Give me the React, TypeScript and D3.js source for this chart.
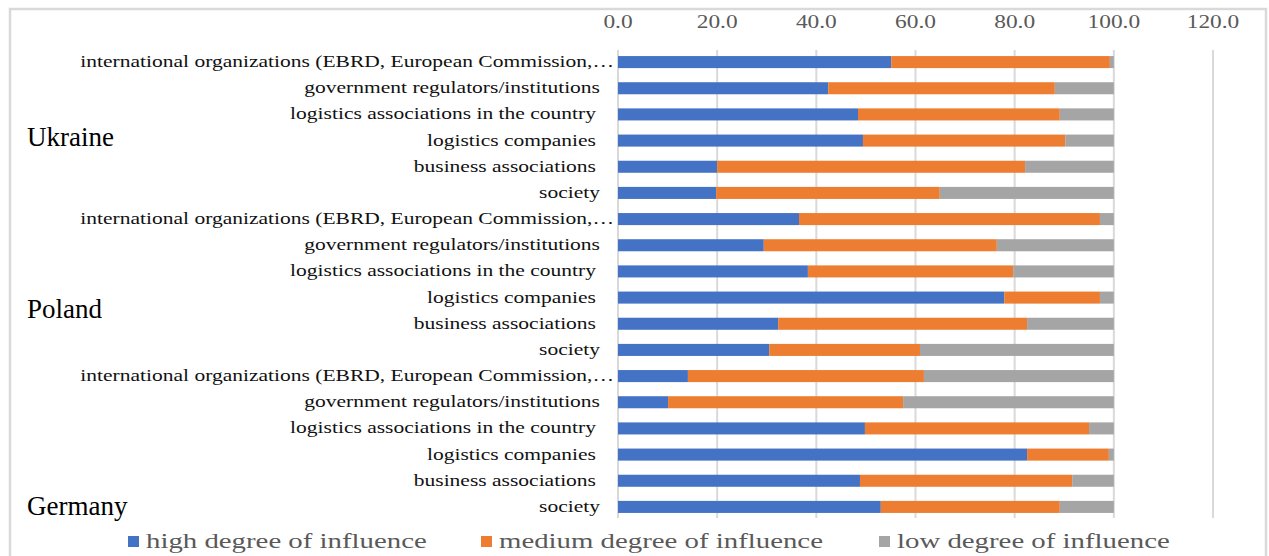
import React from 'react';
import * as d3 from 'd3';

const countries = ['Ukraine', 'Poland', 'Germany'];
const categories = [
  'international organizations (EBRD, European Commission,…',
  'government regulators/institutions',
  'logistics associations in the country',
  'logistics companies',
  'business associations',
  'society',
];
// rows top to bottom: Ukraine x6, Poland x6, Germany x6
const high = [55.1, 42.4, 48.4, 49.4, 20.0, 19.8, 36.5, 29.4, 38.3, 77.9, 32.3, 30.5, 14.1, 10.1, 49.8, 82.5, 48.8, 53.0];
const medium = [44.1, 45.7, 40.7, 40.8, 62.1, 45.1, 60.7, 47.0, 41.4, 19.3, 50.2, 30.4, 47.6, 47.4, 45.2, 16.5, 42.8, 36.1];
const low = [0.8, 11.9, 10.9, 9.8, 17.9, 35.1, 2.8, 23.6, 20.3, 2.8, 17.5, 39.1, 38.3, 42.5, 5.0, 1.0, 8.4, 10.9];
const ticks = [0, 20, 40, 60, 80, 100, 120];
const seriesNames = ['high degree of influence', 'medium degree of influence', 'low degree of influence'];
const colors = ['#4472C4', '#ED7D31', '#A5A5A5'];
// row (in band steps from the first bar) where each country label sits
const countryRows = [2.86, 9.44, 16.96];

const W = 1269;
const H = 556;
const FONT = "'Liberation Serif', 'Times New Roman', serif";

const rows = countries.flatMap((c, ci) =>
  categories.map((cat, k) => {
    const i = ci * categories.length + k;
    return { key: `${c}-${k}`, cat, k, high: high[i], medium: medium[i], low: low[i] };
  })
);

const x = d3.scaleLinear().domain([0, 120]).range([618, 1213]);
const y = d3
  .scaleBand<number>()
  .domain(d3.range(rows.length))
  .range([49, 520])
  .paddingInner(0.54)
  .paddingOuter(0.27);

const stacked = d3.stack<any>().keys(['high', 'medium', 'low'])(rows);

// chart text in the source is stretched horizontally (pasted picture)
const St = ({ x0, y0, anchor, size, fill, sx = 1, children }: any) => (
  <text
    transform={`translate(${x0},${y0}) scale(${sx},1)`}
    textAnchor={anchor}
    fontSize={size}
    fill={fill}
    fontFamily={FONT}
  >
    {children}
  </text>
);

export default function App() {
  const bh = y.bandwidth();
  const c0 = y(0)! + bh / 2;
  const legendX = [128, 481, 879];
  return (
    <svg width={W} height={H} style={{ position: 'absolute', left: 0, top: 0, background: '#fff' }}>
      <rect x={10} y={9} width={1256} height={560} fill="#fff" stroke="#d9d9d9" strokeWidth={2.5} />
      {ticks.map((t) => (
        <g key={t}>
          <line x1={x(t)} x2={x(t)} y1={50} y2={518} stroke="#d9d9d9" strokeWidth={2} />
          <St x0={x(t)} y0={28} anchor="middle" size={18} fill="#595959" sx={1.3}>
            {t.toFixed(1)}
          </St>
        </g>
      ))}
      {stacked.map((s, si) => (
        <g key={si} fill={colors[si]}>
          {s.map((d, i) => (
            <rect
              key={i}
              x={x(d[0])}
              y={y(i)!}
              width={Math.max(0, x(d[1]) - x(d[0]))}
              height={bh}
            />
          ))}
        </g>
      ))}
      {rows.map((r, i) => (
        <St
          key={r.key}
          x0={r.k === 0 ? 614 : r.k === 1 || r.k === 5 ? 600 : 596}
          y0={y(i)! + bh / 2 + 5}
          anchor="end"
          size={16}
          fill="#111"
          sx={1.345}
        >
          {r.cat}
        </St>
      ))}
      {countries.map((c, ci) => (
        <St key={c} x0={27} y0={c0 + countryRows[ci] * y.step() + 9} anchor="start" size={27} fill="#000">
          {c}
        </St>
      ))}
      {seriesNames.map((n, i) => (
        <g key={n}>
          <rect x={legendX[i]} y={536} width={11} height={11} fill={colors[i]} />
          <St x0={legendX[i] + 18} y0={548} anchor="start" size={22} fill="#595959" sx={1.31}>
            {n}
          </St>
        </g>
      ))}
    </svg>
  );
}
